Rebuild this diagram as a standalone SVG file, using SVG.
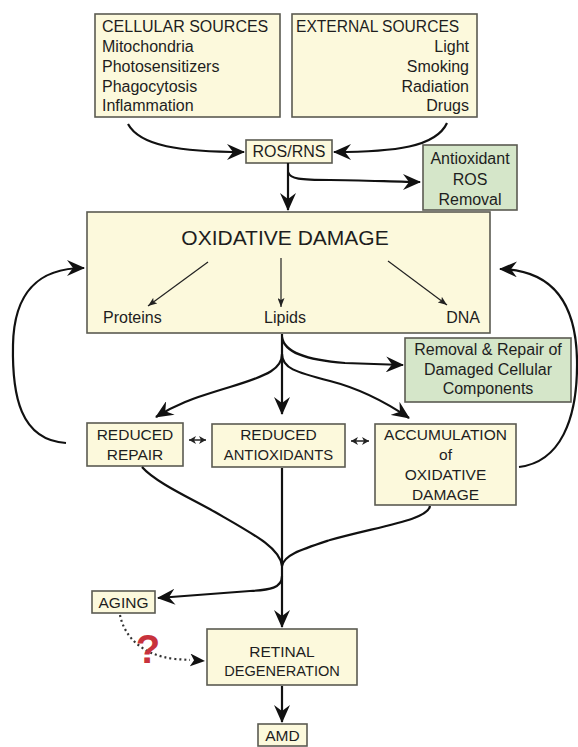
<svg xmlns="http://www.w3.org/2000/svg" width="578" height="747" viewBox="0 0 578 747">
<defs>
<style>
.box{fill:#fcf9dc;stroke:#5b5b52;stroke-width:1.6}
.gbox{fill:#d5e6c9;stroke:#5b5b52;stroke-width:1.6}
text{font-family:"Liberation Sans",Arial,sans-serif;fill:#1e1e1e;font-size:16px}
.c{text-anchor:middle}
.r{text-anchor:end}
.u{font-size:15.5px}
.con{fill:none;stroke:#111;stroke-width:2.2}
.thin{fill:none;stroke:#222;stroke-width:1.2}
.dot{fill:none;stroke:#333;stroke-width:2.2;stroke-dasharray:2 3}
</style>
<marker id="ah" viewBox="0 0 18 16" refX="17" refY="8" markerWidth="18" markerHeight="16" markerUnits="userSpaceOnUse" orient="auto"><path d="M0,0 L18,8 L0,16 L6,8 Z" fill="#111"/></marker>
<marker id="as" viewBox="0 0 9 7" refX="9" refY="3.5" markerWidth="9" markerHeight="7" markerUnits="userSpaceOnUse" orient="auto"><path d="M0,0 L9,3.5 L0,7 L2,3.5 Z" fill="#222"/></marker>
<marker id="ad" viewBox="0 0 7 8" refX="7" refY="4" markerWidth="7" markerHeight="8" markerUnits="userSpaceOnUse" orient="auto-start-reverse"><path d="M0,0 L7,4 L0,8 L2,4 Z" fill="#222"/></marker>
<marker id="ag" viewBox="0 0 15 13" refX="14" refY="6.5" markerWidth="15" markerHeight="13" markerUnits="userSpaceOnUse" orient="auto"><path d="M0,0 L15,6.5 L0,13 L4,6.5 Z" fill="#111"/></marker>
</defs>

<g id="cellular"><rect class="box" x="95" y="14" width="185" height="103"/>
<text x="102" y="32">CELLULAR SOURCES</text><text x="102" y="52">Mitochondria</text><text x="102" y="72">Photosensitizers</text><text x="102" y="92">Phagocytosis</text><text x="102" y="111">Inflammation</text></g>
<g id="external"><rect class="box" x="292" y="14" width="185" height="103"/>
<text x="296" y="32" style="font-size:15.6px">EXTERNAL SOURCES</text><text class="r" x="469" y="52">Light</text><text class="r" x="469" y="72">Smoking</text><text class="r" x="469" y="92">Radiation</text><text class="r" x="469" y="111">Drugs</text></g>
<g id="ros"><rect class="box" x="246" y="140" width="86" height="23"/><text class="c" x="289" y="157">ROS/RNS</text></g>
<g id="antioxidant"><rect class="gbox" x="423" y="145" width="94" height="65"/>
<text class="c" x="470" y="164">Antioxidant</text><text class="c" x="470" y="185">ROS</text><text class="c" x="470" y="205">Removal</text></g>
<g id="oxidative"><rect class="box" x="87" y="212" width="403" height="121"/>
<text class="c" x="285" y="245" style="font-size:21px">OXIDATIVE DAMAGE</text>
<text x="103" y="323">Proteins</text><text class="c" x="285" y="323">Lipids</text><text class="r" x="480" y="323">DNA</text></g>
<g id="removal"><rect class="gbox" x="405" y="338" width="166" height="64"/>
<text class="c" x="488" y="355">Removal &amp; Repair of</text><text class="c" x="488" y="375">Damaged Cellular</text><text class="c" x="488" y="394">Components</text></g>
<g id="repair"><rect class="box" x="87" y="423" width="96" height="43"/>
<text class="c u" x="135" y="440">REDUCED</text><text class="c u" x="135" y="460">REPAIR</text></g>
<g id="reduced-antioxidants"><rect class="box" x="212" y="424" width="133" height="43"/>
<text class="c u" x="278.5" y="440">REDUCED</text><text class="c" x="278.5" y="460" style="font-size:14.8px">ANTIOXIDANTS</text></g>
<g id="accumulation"><rect class="box" x="375" y="424" width="141" height="81"/>
<text class="c u" x="445.5" y="440">ACCUMULATION</text><text class="c u" x="445.5" y="460">of</text><text class="c u" x="445.5" y="480">OXIDATIVE</text><text class="c u" x="445.5" y="500">DAMAGE</text></g>
<g id="aging"><rect class="box" x="92" y="591" width="63" height="22"/><text class="c u" x="123.5" y="608">AGING</text></g>
<g id="retinal"><rect class="box" x="207" y="629" width="150" height="56"/>
<text class="c u" x="282" y="657">RETINAL</text><text class="c" x="282" y="676" style="font-size:14.6px">DEGENERATION</text></g>
<g id="amd"><rect class="box" x="258" y="724" width="49" height="22"/><text class="c u" x="282.5" y="741">AMD</text></g>

<g id="connectors">
<path class="con" d="M128,124 C 140,146 180,152 244,152" marker-end="url(#ah)"/>
<path class="con" d="M447,123 C 436,147 395,152 334,152" marker-end="url(#ah)"/>
<path class="con" d="M288,163 L288,210" marker-end="url(#ah)"/>
<path class="con" d="M288,172 C 290,179 300,180 330,180 S 400,182 420,182" marker-end="url(#ah)"/>
<path class="thin" d="M208,262 L148,306" marker-end="url(#as)"/>
<path class="thin" d="M281,258 L281,307" marker-end="url(#as)"/>
<path class="thin" d="M388,261 L447,305" marker-end="url(#as)"/>
<path class="con" d="M282,334 L282,414" marker-end="url(#ah)"/>
<path class="con" d="M282,337 C 284,352 305,360 345,363 L 403,365" marker-end="url(#ah)"/>
<path class="con" d="M282,354 C 282,368 270,375 230,387 S 175,405 156,417" marker-end="url(#ah)"/>
<path class="con" d="M282,354 C 282,368 295,372 330,381 S 390,405 409,418" marker-end="url(#ah)"/>
<path class="con" d="M66,443 C 20,440 12,395 13,345 C 14,290 40,268 84,268" marker-end="url(#ah)"/>
<path class="con" d="M519,467 C 560,462 578,420 577,360 C 576,300 550,270 500,269" marker-end="url(#ah)"/>
<path class="thin" style="stroke-width:1.5" d="M189,440 L206,440" marker-start="url(#ad)" marker-end="url(#ad)"/>
<path class="thin" style="stroke-width:1.5" d="M351,441 L369,441" marker-start="url(#ad)" marker-end="url(#ad)"/>
<path class="con" d="M282,468 L282,627" marker-end="url(#ah)"/>
<path class="con" d="M142,467 C 155,482 190,498 215,512 C 255,535 280,548 282,566"/>
<path class="con" d="M430,506 C 428,520 380,526 330,540 C 300,550 284,555 282,566"/>
<path class="con" d="M282,576 C 282,588 270,590 250,591 L 158,598" marker-end="url(#ah)"/>
<path class="con" d="M282,686 L282,722" marker-end="url(#ah)"/>
<path class="dot" d="M120,615 C 124,635 140,655 175,659 L 190,660"/>
<path d="M190,660 L 204,661" fill="none" stroke="none" marker-end="url(#ag)"/>
</g>
<g id="question"><text class="c" x="148" y="663" style="font-size:40px;font-weight:bold;fill:#c8323c">?</text></g>
</svg>
